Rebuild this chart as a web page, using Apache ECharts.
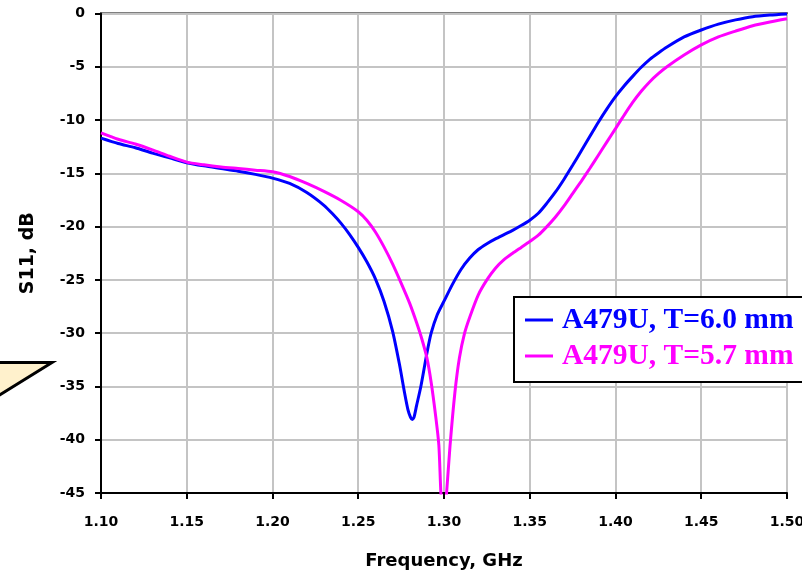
<!DOCTYPE html>
<html>
<head>
<meta charset="utf-8">
<script src="https://cdn.jsdelivr.net/npm/echarts@6/dist/echarts.min.js"></script>
<style>
  html, body { margin: 0; padding: 0; background: #fff; overflow: hidden; }
  #chart { width: 802px; height: 573px; }
</style>
</head>
<body>
<div id="chart"></div>
<script>
// ---- data ----
const seriesNames = ['A479U, T=6.0 mm', 'A479U, T=5.7 mm'];
const xTickLabels = ['1.10','1.15','1.20','1.25','1.30','1.35','1.40','1.45','1.50'];
const yTickLabels = ['0','-5','-10','-15','-20','-25','-30','-35','-40','-45'];

const freqA = [1.100,1.110,1.120,1.130,1.140,1.150,1.160,1.170,1.180,1.190,1.200,1.210,1.220,1.230,1.235,1.240,1.245,1.250,1.255,1.260,1.265,1.270,1.274,1.277,1.279,1.2805,1.2815,1.2825,1.284,1.2865,1.290,1.2925,1.296,1.300,1.305,1.310,1.315,1.320,1.325,1.330,1.335,1.340,1.345,1.350,1.355,1.360,1.365,1.370,1.375,1.380,1.385,1.390,1.395,1.400,1.405,1.410,1.415,1.420,1.425,1.430,1.440,1.450,1.460,1.470,1.480,1.490,1.500];
const s11A  = [-11.7,-12.2,-12.6,-13.1,-13.55,-14.0,-14.3,-14.55,-14.8,-15.1,-15.45,-15.95,-16.8,-18.0,-18.8,-19.7,-20.75,-21.95,-23.3,-24.9,-27.0,-29.8,-32.9,-35.6,-37.2,-37.9,-38.1,-37.9,-36.8,-35.0,-31.9,-30.0,-28.3,-27.0,-25.4,-24.0,-22.95,-22.15,-21.6,-21.15,-20.75,-20.35,-19.9,-19.4,-18.75,-17.8,-16.75,-15.55,-14.25,-12.9,-11.55,-10.2,-8.95,-7.8,-6.8,-5.9,-5.05,-4.3,-3.7,-3.15,-2.2,-1.55,-1.0,-0.6,-0.3,-0.15,-0.05];

const freqB = [1.100,1.110,1.120,1.130,1.140,1.150,1.160,1.170,1.180,1.190,1.200,1.210,1.220,1.230,1.240,1.250,1.255,1.260,1.265,1.270,1.275,1.280,1.284,1.287,1.290,1.2925,1.295,1.297,1.2982,1.2998,1.3015,1.3035,1.3064,1.309,1.312,1.315,1.320,1.325,1.330,1.335,1.340,1.345,1.350,1.355,1.360,1.365,1.370,1.375,1.380,1.385,1.390,1.395,1.400,1.405,1.410,1.415,1.420,1.425,1.430,1.440,1.450,1.460,1.470,1.480,1.490,1.500];
const s11B  = [-11.2,-11.8,-12.25,-12.8,-13.4,-13.95,-14.2,-14.4,-14.55,-14.7,-14.85,-15.3,-15.95,-16.7,-17.55,-18.6,-19.4,-20.5,-21.9,-23.5,-25.3,-27.2,-29.0,-30.5,-32.3,-34.6,-37.6,-40.5,-45.0,-48.0,-45.0,-40.6,-35.5,-32.3,-30.0,-28.5,-26.4,-25.0,-23.9,-23.1,-22.5,-21.95,-21.4,-20.8,-20.0,-19.1,-18.05,-16.9,-15.75,-14.55,-13.3,-12.05,-10.8,-9.55,-8.35,-7.3,-6.4,-5.65,-5.0,-3.9,-2.95,-2.2,-1.65,-1.15,-0.8,-0.5];

const colors = ['#0000FF', '#FF00FF'];

// ---- chart ----
const chart = echarts.init(document.getElementById('chart'), null, { renderer: 'canvas', width: 802, height: 573 });
const labelFont = { fontFamily: 'DejaVu Sans', fontWeight: 'bold', fontSize: 14, color: '#000' };

chart.setOption({
  animation: false,
  backgroundColor: '#ffffff',
  grid: { left: 101, right: 15, top: 13.5, bottom: 80, outerBoundsMode: 'none', containLabel: false,
          show: true, borderColor: '#000', borderWidth: 2, backgroundColor: 'transparent' },
  xAxis: {
    type: 'value', min: 1.10, max: 1.50, interval: 0.05,
    name: 'Frequency, GHz', nameLocation: 'middle', nameGap: 59,
    nameTextStyle: { fontFamily: 'DejaVu Sans', fontWeight: 'bold', fontSize: 18, color: '#000' },
    axisLine: { show: true, onZero: false, lineStyle: { color: '#000', width: 2 } },
    axisTick: { show: true, inside: false, length: 6, lineStyle: { color: '#000', width: 2 } },
    axisLabel: Object.assign({ margin: 22, formatter: (v) => { const i = Math.round((v - 1.10) / 0.05); return xTickLabels[i] !== undefined ? xTickLabels[i] : ''; } }, labelFont),
    splitLine: { show: true, lineStyle: { color: '#c4c4c4', width: 2 } }
  },
  yAxis: {
    type: 'value', min: -45, max: 0, interval: 5,
    name: 'S11, dB', nameLocation: 'middle', nameGap: 63, nameRotate: 90,
    nameTextStyle: { fontFamily: 'DejaVu Sans', fontWeight: 'bold', fontSize: 19, color: '#000' },
    axisLine: { show: true, onZero: false, lineStyle: { color: '#000', width: 2 } },
    axisTick: { show: true, inside: false, length: 6, lineStyle: { color: '#000', width: 2 } },
    axisLabel: Object.assign({ margin: 16, formatter: (v) => { const i = Math.round(-v / 5); return yTickLabels[i] !== undefined ? yTickLabels[i] : ''; } }, labelFont),
    splitLine: { show: true, lineStyle: { color: '#c4c4c4', width: 2 } }
  },
  legend: {
    orient: 'vertical', left: 514, top: 297,
    padding: [8, 40, 11, 11],
    itemGap: 6, itemWidth: 28, itemHeight: 3, icon: 'rect',
    borderColor: '#000', borderWidth: 2, backgroundColor: '#fff',
    textStyle: { fontFamily: 'Liberation Serif', fontWeight: 'bold', fontSize: 29.5, lineHeight: 30, padding: [0, 0, 0, 4] },
    data: [
      { name: seriesNames[0], textStyle: { color: colors[0] } },
      { name: seriesNames[1], textStyle: { color: colors[1] } }
    ]
  },
  graphic: [{
    type: 'polygon', z: 100,
    shape: { points: [[-6, 362.5], [52, 362.5], [-6, 398.5]] },
    style: { fill: '#FFF1CC', stroke: '#000', lineWidth: 3 }
  }],
  series: [
    { name: seriesNames[0], type: 'line', data: freqA.map((f, i) => [f, s11A[i]]), showSymbol: false, smooth: 0.25, clip: true,
      lineStyle: { color: colors[0], width: 3 }, itemStyle: { color: colors[0] } },
    { name: seriesNames[1], type: 'line', data: freqB.map((f, i) => [f, s11B[i]]), showSymbol: false, smooth: 0.25, clip: true,
      lineStyle: { color: colors[1], width: 3 }, itemStyle: { color: colors[1] } }
  ]
});
</script>
</body>
</html>
